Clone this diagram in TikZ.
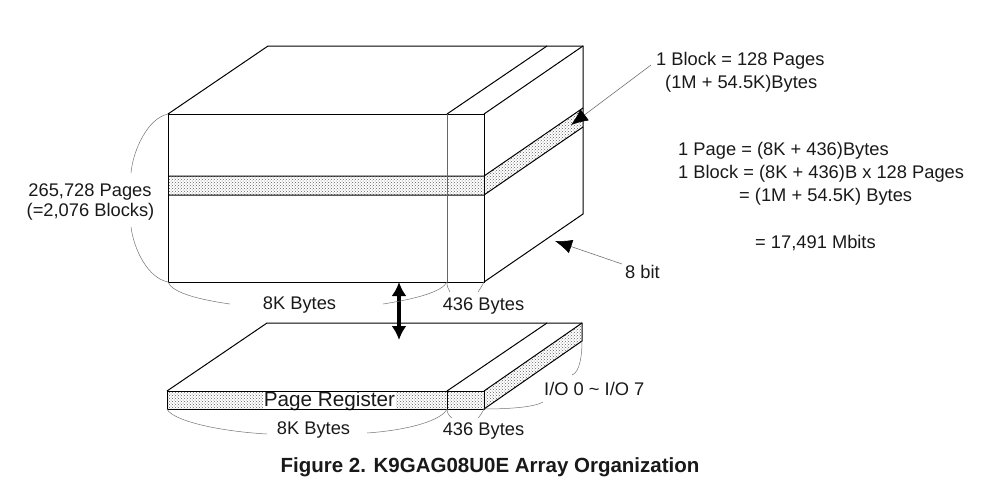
\documentclass[tikz,border=0pt]{standalone}
\usepackage{fontspec}
\setmainfont{Liberation Sans}
\usetikzlibrary{arrows.meta}
\usetikzlibrary{patterns}
\usetikzlibrary{positioning}

\tikzset{
  edge/.style={draw=black, line width=1pt},
  thinedge/.style={draw=black!60, line width=1pt},
  band/.style={pattern=crosshatch dots, pattern color=black!62},
  leader/.style={draw=black!55, line width=0.5pt},
  pointer/.style={draw=black!55, line width=0.6pt, -{Latex[black, length=17pt, width=14pt]}},
  txt/.style={inner sep=0pt, font=\fontsize{18.3}{21}\selectfont, text=black!90},
  txtl/.style={txt, anchor=west},
}

\begin{document}
\begin{tikzpicture}[x=1pt, y=-1pt]
          \useasboundingbox (0,0) rectangle (985,493);

          % main block corners
          \coordinate (ftl) at (168,114);
          \coordinate (fdt) at (447,114);
          \coordinate (ftr) at (484,114);
          \coordinate (fbl) at (168,282);
          \coordinate (fdb) at (447,282);
          \coordinate (fbr) at (484,282);
          \coordinate (btl) at (268,46);
          \coordinate (bdt) at (547,46);
          \coordinate (btr) at (583,46);
          \coordinate (bbr) at (583,214);

          % page register corners
          \coordinate (rtl) at (167,391);
          \coordinate (rdt) at (447,391);
          \coordinate (rtr) at (484,391);
          \coordinate (rbl) at (167,409);
          \coordinate (rdb) at (447,409);
          \coordinate (rbr) at (484,409);
          \coordinate (qtl) at (267,323);
          \coordinate (qdt) at (547,323);
          \coordinate (qtr) at (582,323);
          \coordinate (qbr) at (582,341);

          % shaded page
          \fill[band] (168,176) -- (484,176) -- (583,108) -- (583,127) -- (484,195) -- (168,195) -- cycle;
          \draw[edge] (168,176) -- (484,176) -- (583,108);
          \draw[edge] (168,195) -- (484,195) -- (583,127);

          \draw[edge] (ftl) -- (ftr) -- (fbr) -- (fbl) -- cycle;
          \draw[edge] (ftl) -- (btl) -- (btr) -- (bbr) -- (fbr);
          \draw[edge] (ftr) -- (btr);
          \draw[edge] (fdt) -- (bdt);
          \draw[thinedge] (fdt) -- (fdb);

          % register
          \fill[band] (rtl) -- (rtr) -- (qtr) -- (qbr) -- (rbr) -- (rbl) -- cycle;
          \node (pagereg) [txt, fill=white, minimum width=133pt, minimum height=17pt, font=\fontsize{20.7}{22}\selectfont] at (329.5,401) {Page Register};
          \draw[edge] (rtl) -- (rtr) -- (rbr) -- (rbl) -- cycle;
          \draw[edge] (rtl) -- (qtl) -- (qtr) -- (qbr) -- (rbr);
          \draw[edge] (rtr) -- (qtr);
          \draw[edge] (rdt) -- (qdt);
          \draw[edge] (rdt) -- (rdb);

          % labels
          \node (blocka) [txtl] at (656,61) {1 Block = 128 Pages};
          \node (blockb) [txtl] at (665,84) {(1M + 54.5K)Bytes};
          \node (calca) [txtl] at (678,151) {1 Page = (8K + 436)Bytes};
          \node (calcb) [txtl] at (678,174) {1 Block = (8K + 436)B x 128 Pages};
          \node (calcc) [txtl] at (739,197) {= (1M + 54.5K) Bytes};
          \node (calcd) [txtl] at (755,243) {= 17,491 Mbits};
          \node (eightbit) [txtl] at (625,272) {8 bit};
          \node (pagesa) [txt] at (90,192) {265,728 Pages};
          \node (pagesb) [txt] at (90.5,212) {(=2,076 Blocks)};
          \node (mainbytes) [txt] at (299.5,305) {8K Bytes};
          \node (mainspare) [txt] at (483.5,306) {436 Bytes};
          \node (regbytes) [txt] at (313.5,430) {8K Bytes};
          \node (regspare) [txt] at (483.5,431) {436 Bytes};
          \node (iolabel) [txtl] at (544,389) {I/O 0 \char`\~{} I/O 7};
          \node (caption) [inner sep=0pt, font=\fontsize{20.5}{23}\selectfont\bfseries, text=black!90] at (490,467) {Figure 2. K9GAG08U0E Array Organization};

          % pointers
          \coordinate (blockend) at (651,65);
          \coordinate (blocktip) at (571,125);
          \coordinate (bitend) at (622,264);
          \coordinate (bittip) at (555,241);
          \draw[pointer] (blockend) -- (blocktip);
          \draw[pointer] (bitend) -- (bittip);

          \draw[black, line width=3.6pt, {Latex[length=14pt, width=15pt]}-{Latex[length=14pt, width=15pt]}] (399,282) -- (399,340);

          % braces
          \draw[leader] (ftl) .. controls (148,118) and (133,150) .. (131,173);
          \draw[leader] (fbl) .. controls (148,278) and (134,250) .. (131,227);
          \draw[leader] (fbl) .. controls (172,292) and (195,299) .. (230,304);
          \draw[leader] (fdb) .. controls (442,292) and (415,299) .. (383,304);
          \draw[leader] (fdb) .. controls (447,286) and (448,289) .. (450,292);
          \draw[leader] (fbr) .. controls (482,286) and (480,289) .. (478,292);
          \draw[leader] (rbl) .. controls (172,420) and (215,431) .. (267,434);
          \draw[leader] (rdb) .. controls (442,420) and (410,430) .. (367,433);
          \draw[leader] (rdb) .. controls (447,413) and (449,416) .. (452,418);
          \draw[leader] (rbr) .. controls (482,413) and (480,416) .. (478,418);
          \draw[leader] (rbr) .. controls (510,409) and (535,407) .. (543,402);
          \draw[leader] (qbr) .. controls (582,355) and (580,372) .. (572,375);

        \end{tikzpicture}
\end{document}
